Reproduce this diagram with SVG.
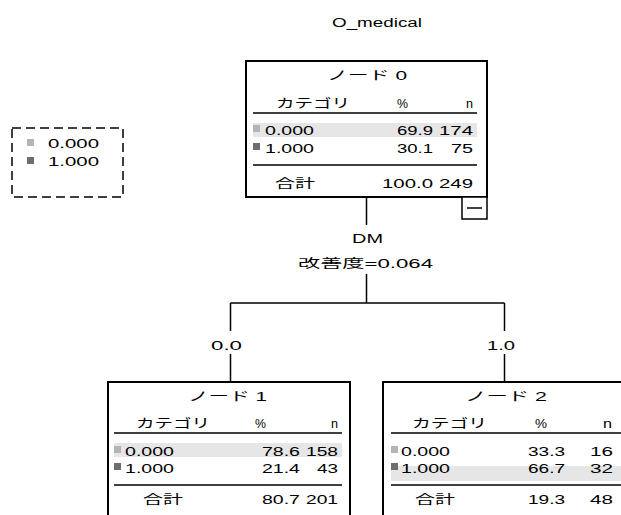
<svg xmlns="http://www.w3.org/2000/svg" width="621" height="515" viewBox="0 0 621 515">
<style>
text{font-family:"Liberation Sans","Noto Sans CJK JP",sans-serif;font-size:12.5px;fill:#000}
.box{fill:#fff;stroke:#000;stroke-width:2}
.rule{stroke:#000;stroke-width:1.5}
.conn line{stroke:#000;stroke-width:1.5}
.sh{fill:#e6e6e6}
.c0{fill:#b4b4b4}
.c1{fill:#6e6e6e}
</style>
<rect width="621" height="515" fill="#fff"/>
<text x="332" y="27" textLength="90" lengthAdjust="spacingAndGlyphs">O_medical</text>

<g id="legend">
<rect x="12" y="128" width="111" height="69" fill="none" stroke="#000" stroke-width="1.5" stroke-dasharray="9 5"/>
<rect class="c0" x="27" y="139" width="7" height="7"/>
<text x="48" y="147.5" textLength="51" lengthAdjust="spacingAndGlyphs">0.000</text>
<rect class="c1" x="27" y="157" width="7" height="7"/>
<text x="48" y="165.5" textLength="51" lengthAdjust="spacingAndGlyphs">1.000</text>
</g>

<g class="conn" id="connectors">
<line x1="366.5" y1="197" x2="366.5" y2="225"/>
<line x1="366.5" y1="274" x2="366.5" y2="303"/>
<line x1="230.5" y1="303" x2="504.5" y2="303"/>
<line x1="230.5" y1="303" x2="230.5" y2="331"/>
<line x1="504.5" y1="303" x2="504.5" y2="331"/>
<line x1="230.5" y1="354" x2="230.5" y2="382"/>
<line x1="504.5" y1="354" x2="504.5" y2="382"/>
<text x="352" y="243" textLength="31" lengthAdjust="spacingAndGlyphs">DM</text>
<text x="298" y="268" textLength="135" lengthAdjust="spacingAndGlyphs">改善度=0.064</text>
<text x="211" y="350" textLength="31" lengthAdjust="spacingAndGlyphs">0.0</text>
<text x="487" y="350" textLength="28" lengthAdjust="spacingAndGlyphs">1.0</text>
</g>

<g id="node0">
<rect class="box" x="246" y="61" width="241" height="136"/>
<text x="327" y="80" textLength="80" lengthAdjust="spacingAndGlyphs">ノード 0</text>
<text x="276" y="108" textLength="74" lengthAdjust="spacingAndGlyphs">カテゴリ</text>
<text x="397" y="108" textLength="11" lengthAdjust="spacingAndGlyphs">%</text>
<text x="466" y="108" textLength="7" lengthAdjust="spacingAndGlyphs">n</text>
<line class="rule" x1="253" y1="113" x2="477" y2="113"/>
<rect class="sh" x="253" y="123" width="224" height="14"/>
<rect class="c0" x="253" y="125" width="7" height="7"/>
<text x="265" y="135" textLength="49" lengthAdjust="spacingAndGlyphs">0.000</text>
<text x="397" y="135" textLength="36" lengthAdjust="spacingAndGlyphs">69.9</text>
<text x="439" y="135" textLength="34" lengthAdjust="spacingAndGlyphs">174</text>
<rect class="c1" x="253" y="143" width="7" height="7"/>
<text x="265" y="153" textLength="49" lengthAdjust="spacingAndGlyphs">1.000</text>
<text x="397" y="153" textLength="36" lengthAdjust="spacingAndGlyphs">30.1</text>
<text x="451" y="153" textLength="22" lengthAdjust="spacingAndGlyphs">75</text>
<line class="rule" x1="253" y1="165" x2="477" y2="165"/>
<text x="275" y="188" textLength="40" lengthAdjust="spacingAndGlyphs">合計</text>
<text x="382" y="188" textLength="51" lengthAdjust="spacingAndGlyphs">100.0</text>
<text x="439" y="188" textLength="34" lengthAdjust="spacingAndGlyphs">249</text>
<rect x="462" y="197" width="25" height="22" fill="#fff" stroke="#000" stroke-width="1.5"/>
<line class="rule" x1="467" y1="208" x2="482" y2="208"/>
</g>

<g id="node1">
<rect class="box" x="108" y="382" width="242" height="140"/>
<text x="188" y="401" textLength="79" lengthAdjust="spacingAndGlyphs">ノード 1</text>
<text x="136" y="428" textLength="74" lengthAdjust="spacingAndGlyphs">カテゴリ</text>
<text x="255" y="428" textLength="11" lengthAdjust="spacingAndGlyphs">%</text>
<text x="331" y="428" textLength="7" lengthAdjust="spacingAndGlyphs">n</text>
<line class="rule" x1="114" y1="433" x2="342" y2="433"/>
<rect class="sh" x="114" y="443" width="228" height="14"/>
<rect class="c0" x="114" y="446" width="7" height="7"/>
<text x="125" y="456" textLength="49" lengthAdjust="spacingAndGlyphs">0.000</text>
<text x="262" y="456" textLength="38" lengthAdjust="spacingAndGlyphs">78.6</text>
<text x="306" y="456" textLength="32" lengthAdjust="spacingAndGlyphs">158</text>
<rect class="c1" x="114" y="463" width="7" height="7"/>
<text x="125" y="473" textLength="49" lengthAdjust="spacingAndGlyphs">1.000</text>
<text x="262" y="473" textLength="38" lengthAdjust="spacingAndGlyphs">21.4</text>
<text x="317" y="473" textLength="21" lengthAdjust="spacingAndGlyphs">43</text>
<line class="rule" x1="114" y1="485" x2="342" y2="485"/>
<text x="143" y="504" textLength="40" lengthAdjust="spacingAndGlyphs">合計</text>
<text x="262" y="504" textLength="38" lengthAdjust="spacingAndGlyphs">80.7</text>
<text x="306" y="504" textLength="32" lengthAdjust="spacingAndGlyphs">201</text>
</g>

<g id="node2">
<rect class="box" x="383" y="382" width="250" height="140"/>
<text x="465" y="401" textLength="82" lengthAdjust="spacingAndGlyphs">ノード 2</text>
<text x="412" y="428" textLength="75" lengthAdjust="spacingAndGlyphs">カテゴリ</text>
<text x="535" y="428" textLength="12" lengthAdjust="spacingAndGlyphs">%</text>
<text x="603" y="428" textLength="9" lengthAdjust="spacingAndGlyphs">n</text>
<line class="rule" x1="391" y1="433" x2="621" y2="433"/>
<rect class="sh" x="391" y="466" width="230" height="15"/>
<rect class="c0" x="391" y="446" width="7" height="7"/>
<text x="401" y="456" textLength="49" lengthAdjust="spacingAndGlyphs">0.000</text>
<text x="528" y="456" textLength="37" lengthAdjust="spacingAndGlyphs">33.3</text>
<text x="590" y="456" textLength="23" lengthAdjust="spacingAndGlyphs">16</text>
<rect class="c1" x="391" y="463" width="7" height="7"/>
<text x="401" y="473" textLength="49" lengthAdjust="spacingAndGlyphs">1.000</text>
<text x="528" y="473" textLength="37" lengthAdjust="spacingAndGlyphs">66.7</text>
<text x="590" y="473" textLength="23" lengthAdjust="spacingAndGlyphs">32</text>
<line class="rule" x1="391" y1="485" x2="621" y2="485"/>
<text x="415" y="504" textLength="40" lengthAdjust="spacingAndGlyphs">合計</text>
<text x="528" y="504" textLength="37" lengthAdjust="spacingAndGlyphs">19.3</text>
<text x="590" y="504" textLength="23" lengthAdjust="spacingAndGlyphs">48</text>
</g>
</svg>
